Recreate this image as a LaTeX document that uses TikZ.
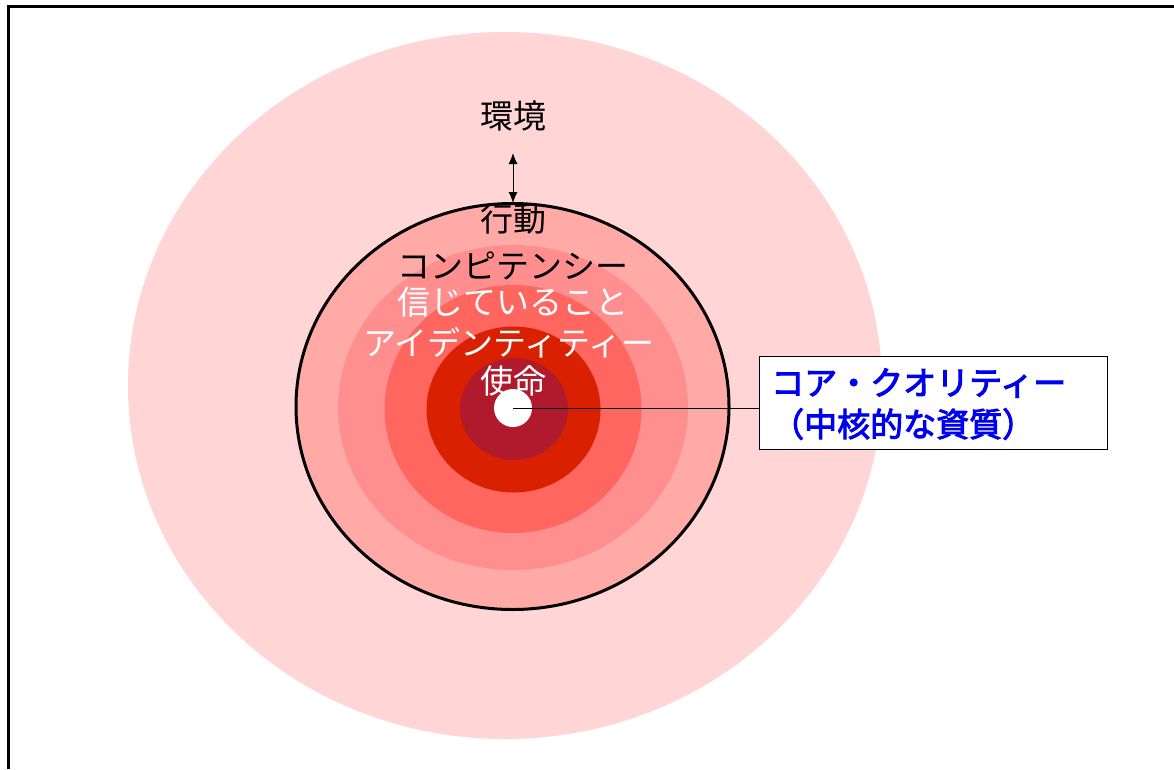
\documentclass[tikz,border=0pt]{standalone}
\usepackage{fontspec}
\newfontfamily\jp{Noto Sans CJK JP}
\newfontfamily\jpmed[FakeBold=3]{Noto Sans CJK JP}
\usetikzlibrary{arrows.meta}
\definecolor{ring0}{HTML}{FFD5D5}
\definecolor{ring1}{HTML}{FFAAA7}
\definecolor{ring2}{HTML}{FF8F8F}
\definecolor{ring3}{HTML}{FF6660}
\definecolor{ring4}{HTML}{D92000}
\definecolor{ring5}{HTML}{B01A2C}
\definecolor{labelblue}{HTML}{0000F0}
\tikzset{
  lbl/.style={font=\jp\fontsize{33}{33}\selectfont, inner sep=0pt, anchor=center},
  bluelbl/.style={font=\jpmed\fontsize{33}{33}\selectfont, text=labelblue, inner sep=0pt, anchor=west},
}
\begin{document}
\begin{tikzpicture}[x=1pt,y=-1pt]
\useasboundingbox (0,0) rectangle (1174,769);
\fill[white] (0,0) rectangle (1174,769);
% frame
\draw[line width=3pt] (8,769) -- (8,6) -- (1174,6);
% rings
\fill[ring0] (505,385.5) ellipse [x radius=377, y radius=353.5];
\fill[ring1] (512.5,406.5) ellipse [x radius=216.5, y radius=203];
\draw[line width=3pt] (512.5,406.5) ellipse [x radius=216.5, y radius=203];
\fill[ring2] (513,407.5) ellipse [x radius=175, y radius=162.5];
\fill[ring3] (513,409) ellipse [x radius=128.5, y radius=124];
\fill[ring4] (513.5,409.5) ellipse [x radius=87, y radius=83];
\fill[ring5] (514,409) ellipse [x radius=54, y radius=51];
\node[circle, fill=white, minimum size=38pt, inner sep=0pt] (core) at (513,408) {};
% labels
\node[lbl] (env) at (513,116) {環境};
\node[lbl] (act) at (513,219) {行動};
\coordinate (arrtop) at (513,153);
\coordinate (arrbot) at (513,203);
\draw[line width=1pt, {Latex[length=11pt,width=9pt]}-{Latex[length=11pt,width=9pt]}] (arrtop) -- (arrbot);
\node[lbl] (comp) at (513,266) {コンピテンシー};
\node[lbl, text=white] (belief) at (513,302) {信じていること};
\node[lbl, text=white] (ident) at (509,343) {アイデンティティー};
\node[lbl, text=white] (mission) at (513,381) {使命};
% callout box
\node[draw, line width=1.2pt, fill=white, minimum width=348pt, minimum height=93pt, inner sep=0pt, anchor=north west] (box) at (759,356) {};
\node[bluelbl] (q1) at (771,383) {コア・クオリティー};
\node[bluelbl] (q2) at (771,424) {（中核的な資質）};
\draw[line width=1pt] (core.center) -- (core.center -| box.west);
\end{tikzpicture}
\end{document}
